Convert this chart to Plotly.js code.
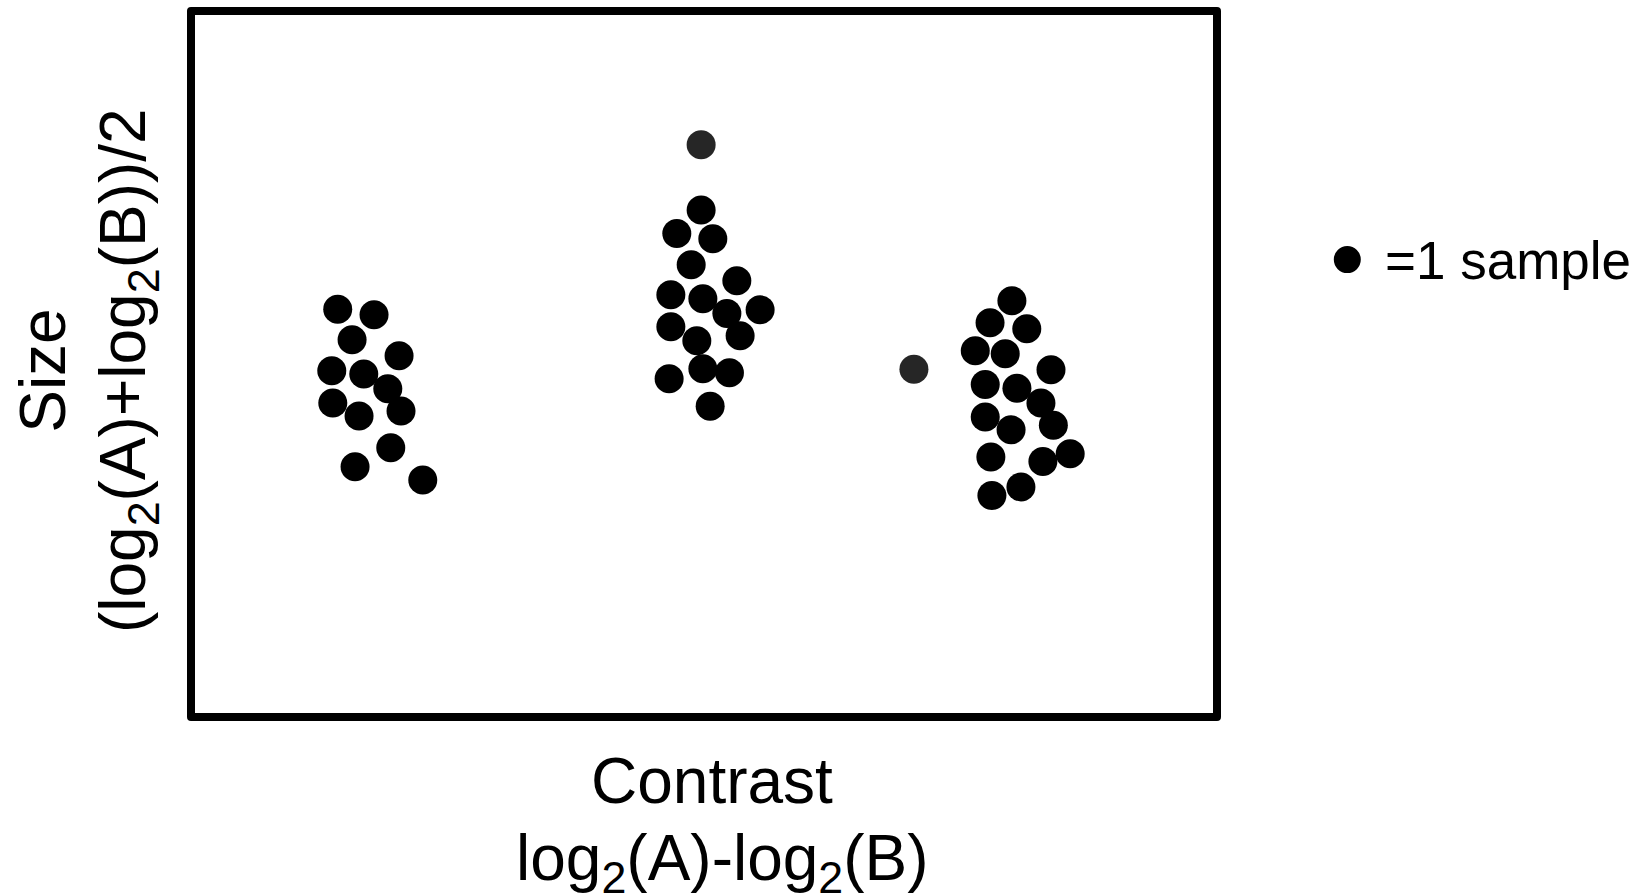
<!DOCTYPE html>
<html>
<head>
<meta charset="utf-8">
<script src="https://cdn.plot.ly/plotly-3.0.1.min.js"></script>
<style>html,body{margin:0;padding:0;background:#fff;}#chart{width:1640px;height:896px;}</style>
</head>
<body>
<div id="chart"></div>
<script>
// Arbitrary units (no ticks in the original): contrast on x, size on y, both 0-100.
const groupA_x = [14.30, 17.84, 15.70, 20.28, 13.72, 16.84, 19.18, 13.82, 20.47, 16.38, 19.47, 15.99, 22.59];
const groupA_y = [57.77, 56.97, 53.42, 51.16, 49.03, 48.60, 46.48, 44.49, 43.36, 42.65, 38.12, 35.43, 33.58];

const groupB_x = [49.72, 47.35, 50.86, 48.75, 53.20, 46.77, 49.89, 52.23, 55.47, 46.77, 53.52, 49.30, 49.89, 52.48, 46.60, 50.60];
const groupB_y = [71.80, 68.50, 67.73, 64.05, 61.78, 59.80, 59.23, 57.16, 57.67, 55.26, 53.99, 53.28, 49.31, 48.75, 47.90, 44.03];

const groupC_x = [80.01, 77.88, 81.46, 76.44, 79.36, 83.82, 77.41, 80.50, 82.84, 77.41, 84.05, 79.93, 77.96, 83.03, 85.69, 80.89, 78.06];
const groupC_y = [58.95, 55.83, 54.98, 51.86, 51.44, 49.17, 47.10, 46.58, 44.49, 42.51, 41.34, 40.67, 36.84, 36.19, 37.27, 32.59, 31.37];

const outlier_x = [49.72, 70.46];
const outlier_y = [81.05, 49.27];

const xTitleLines = ['Contrast', 'log<sub>2</sub>(A)-log<sub>2</sub>(B)'];
const yTitleLines = ['Size', '(log<sub>2</sub>(A)+log<sub>2</sub>(B))/2'];
const legendLabel = '=1 sample';

const FONT = 'Liberation Sans, Arial, Helvetica, sans-serif';
const dotSize = 29;

function pts(x, y, color) {
  return {
    type: 'scatter', mode: 'markers', x: x, y: y, hoverinfo: 'skip', showlegend: false,
    marker: {size: dotSize, color: color, line: {width: 0}}
  };
}

const data = [
  pts(groupA_x, groupA_y, '#000000'),
  pts(groupB_x, groupB_y, '#000000'),
  pts(groupC_x, groupC_y, '#000000'),
  pts(outlier_x, outlier_y, '#262626')
];

const ann = (text, x, y, size, angle, xanchor) => ({
  text: text, x: x, y: y, xref: 'paper', yref: 'paper', showarrow: false,
  xanchor: xanchor || 'center', yanchor: 'middle', textangle: angle || 0,
  font: {family: FONT, size: size, color: '#000'}
});

const layout = {
  width: 1640, height: 896,
  margin: {l: 191, r: 423.3, t: 11, b: 179.3, pad: 0},
  paper_bgcolor: '#fff', plot_bgcolor: '#fff',
  xaxis: {range: [0, 100], showgrid: false, zeroline: false, showticklabels: false, ticks: '', showline: false, fixedrange: true},
  yaxis: {range: [0, 100], showgrid: false, zeroline: false, showticklabels: false, ticks: '', showline: false, fixedrange: true},
  shapes: [
    {type: 'rect', xref: 'paper', yref: 'paper', x0: 0, x1: 1, y0: 0, y1: 1, line: {color: '#000', width: 8}, layer: 'above'},
    {type: 'circle', xref: 'paper', yref: 'paper', xsizemode: 'pixel', ysizemode: 'pixel',
     xanchor: 1.127, yanchor: 0.6479, x0: -13.5, x1: 13.5, y0: -13.5, y1: 13.5,
     fillcolor: '#000', line: {width: 0}}
  ],
  annotations: [
    ann(xTitleLines[0], 0.5077, -0.0913, 64),
    ann(xTitleLines[1], 0.5182, -0.2060, 64),
    ann(yTitleLines[0], -0.1439, 0.4909, 64, -90),
    ann(yTitleLines[1], -0.0618, 0.4909, 64, -90),
    ann(legendLabel, 1.1618, 0.6467, 53, 0, 'left')
  ],
  showlegend: false
};

Plotly.newPlot('chart', data, layout, {displayModeBar: false, staticPlot: true}).then(function (gd) {
  // rounded corners on the frame, as in the original
  const frame = gd.querySelectorAll('.shapelayer path');
  frame.forEach(function (p) { p.style.strokeLinejoin = 'round'; });
});
</script>
</body>
</html>
